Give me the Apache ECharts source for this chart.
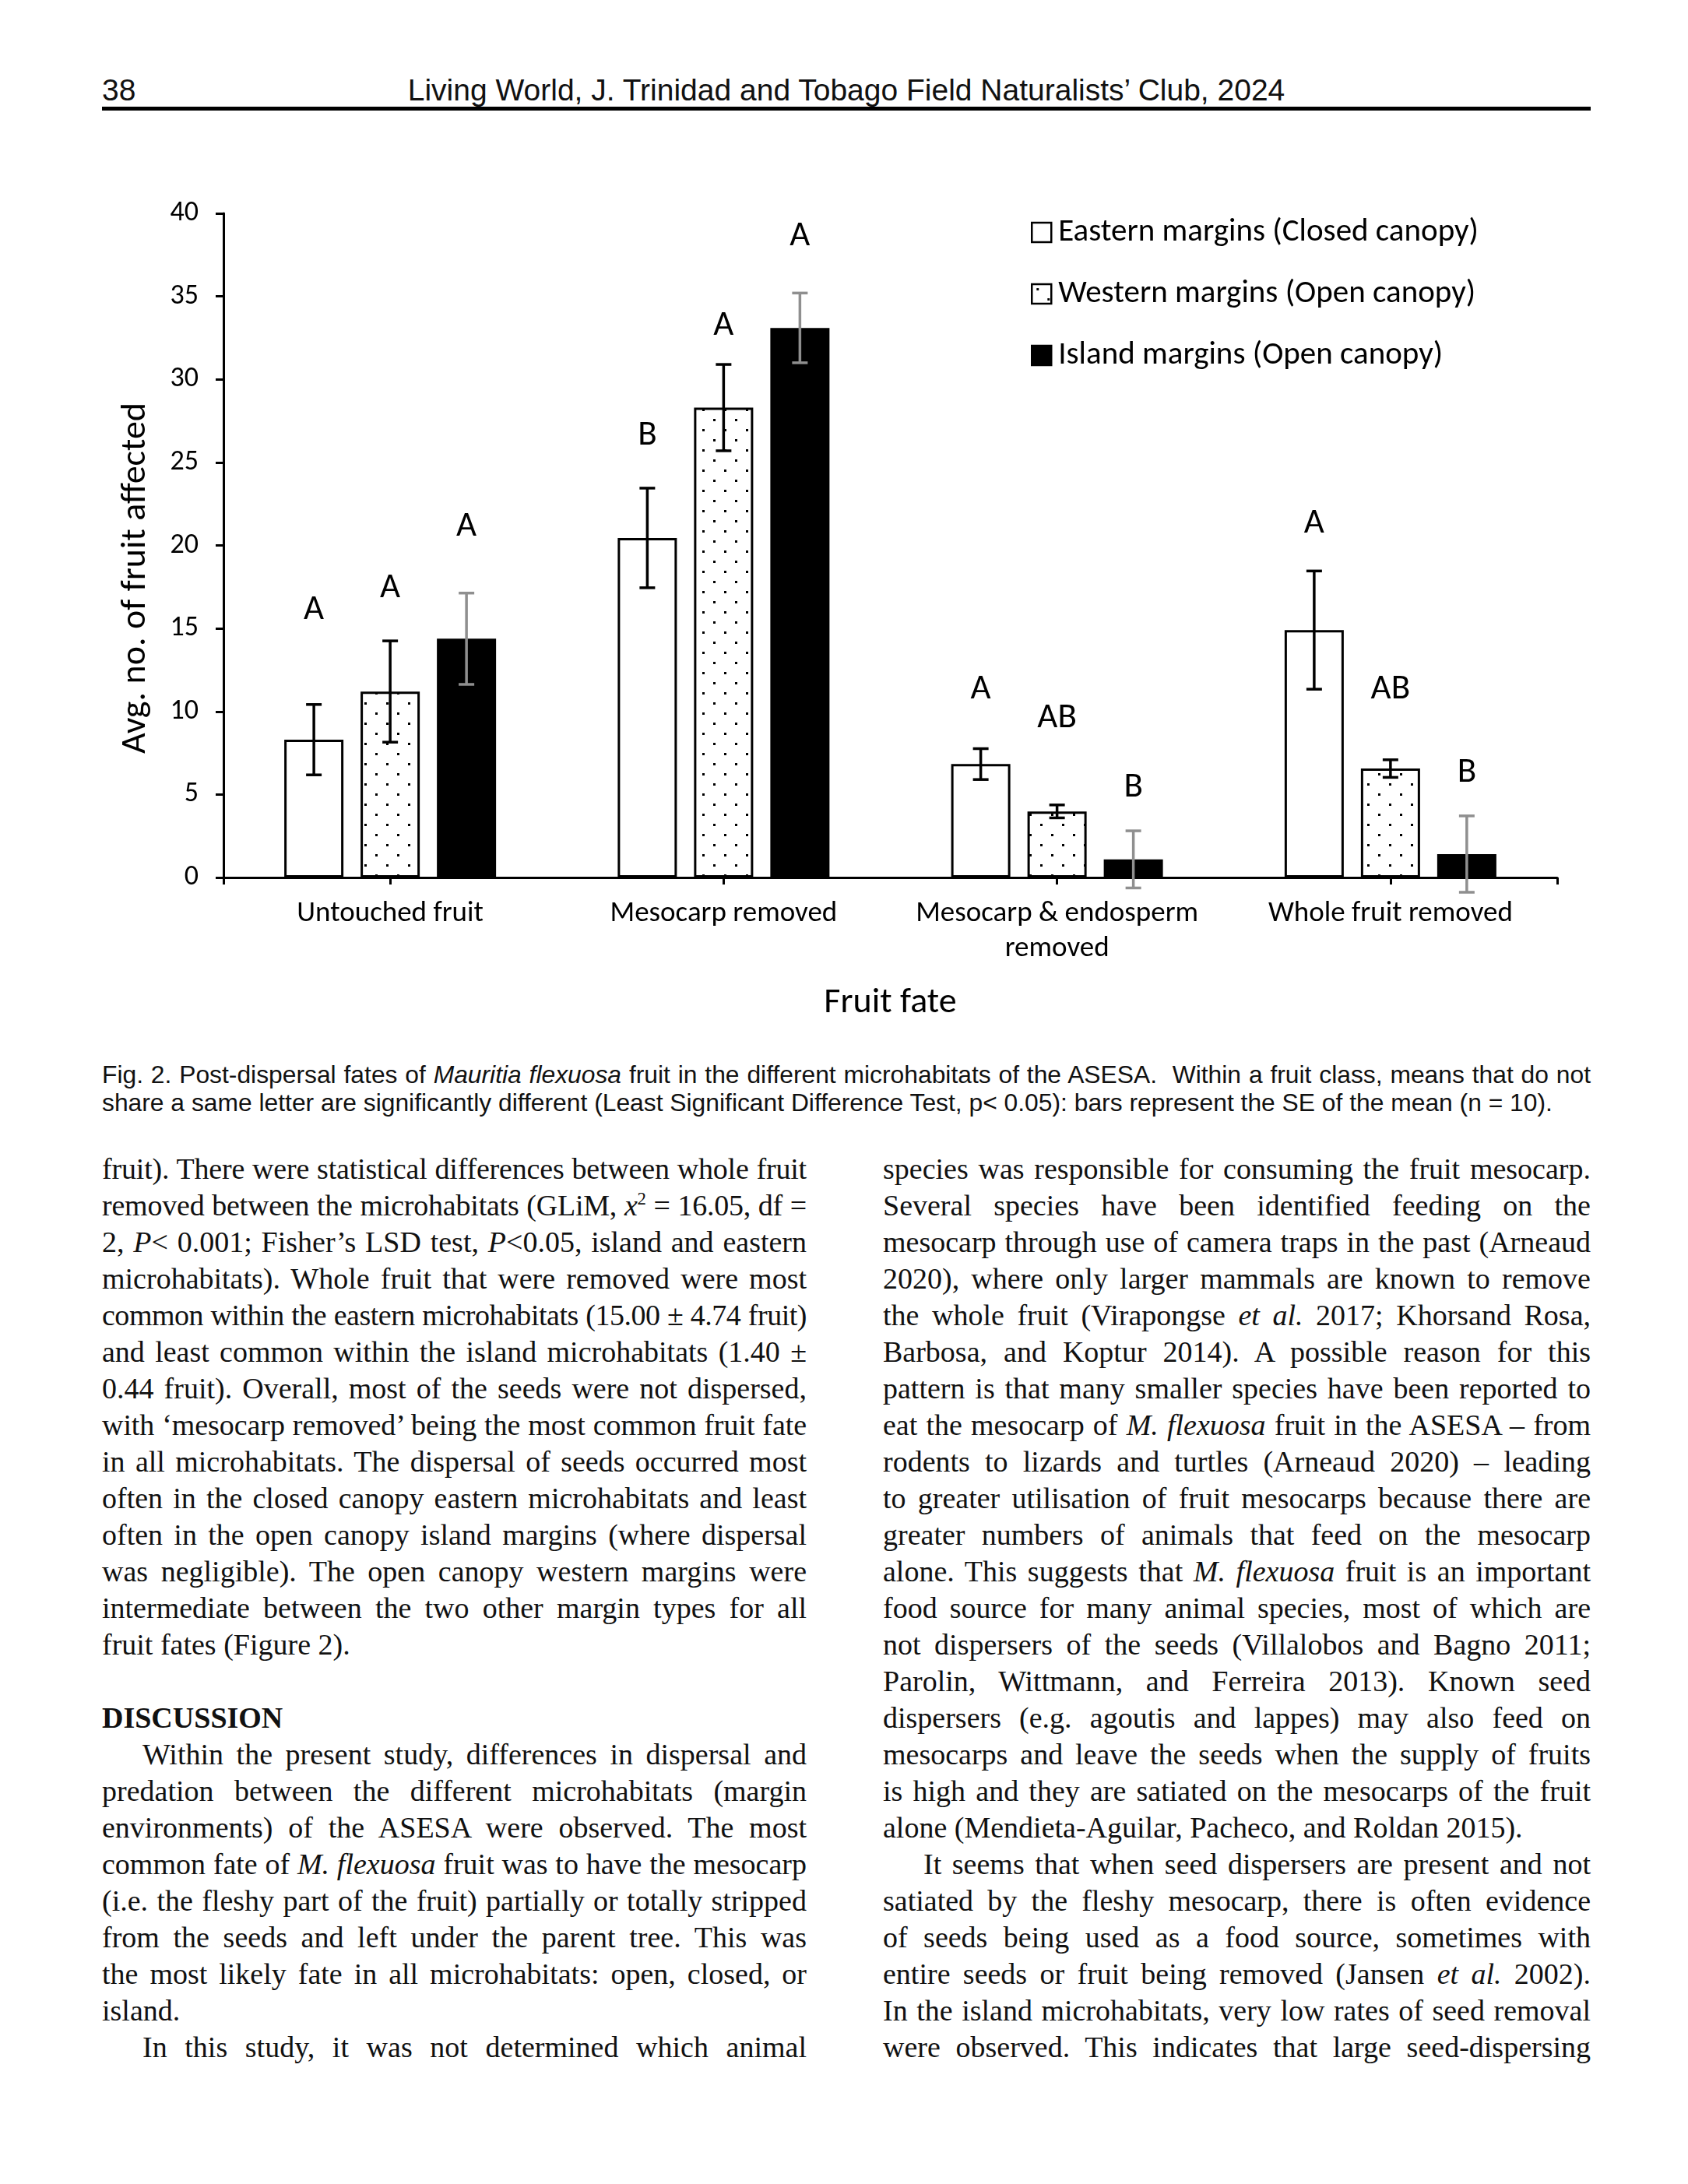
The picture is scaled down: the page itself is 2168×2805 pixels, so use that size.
<!DOCTYPE html>
<html><head><meta charset="utf-8">
<script src="https://cdn.jsdelivr.net/npm/echarts@6/dist/echarts.min.js"></script>
<style>
html,body{margin:0;padding:0;background:#fff;}
#page{position:relative;width:2168px;height:2805px;background:#fff;overflow:hidden;}
#chart{position:absolute;left:0;top:0;width:2168px;height:1340px;}
.hdr{position:absolute;top:94px;font-family:'Liberation Sans',Arial,sans-serif;font-size:39px;line-height:44px;color:#111;white-space:nowrap;}
.rule{position:absolute;left:131px;top:137px;width:1912px;height:5px;background:#000;}
.cap{position:absolute;left:131px;width:1912px;font-family:'Liberation Sans',Arial,sans-serif;font-size:31.8px;line-height:36px;white-space:nowrap;color:#111;}
.cap.j{text-align:justify;text-align-last:justify;}
.col{position:absolute;top:1478px;font-family:'Liberation Serif','Times New Roman',serif;font-size:38px;color:#111;}
.col div{height:47px;line-height:47px;white-space:nowrap;text-align:justify;text-align-last:justify;}
.col div.l{text-align:left;text-align-last:left;}
.col div.ind{padding-left:52px;}
</style></head>
<body><div id="page">
<div class="hdr" style="left:131px;">38</div>
<div class="hdr" style="left:131px;width:1912px;text-align:center;">Living World, J. Trinidad and Tobago Field Naturalists’ Club, 2024</div>
<div class="rule"></div>
<div id="chart"></div>
<div class="cap j" style="top:1362px;">Fig. 2. Post-dispersal fates of <i>Mauritia flexuosa</i> fruit in the different microhabitats of the ASESA.&nbsp; Within a fruit class, means that do not</div>
<div class="cap" style="top:1398px;">share a same letter are significantly different (Least Significant Difference Test, p&lt; 0.05): bars represent the SE of the mean (n = 10).</div>
<div class="col" style="left:131px;width:905px;">
<div>fruit). There were statistical differences between whole fruit</div>
<div>removed between the microhabitats (GLiM, <i>x</i><sup style="font-size:60%;line-height:0">2</sup> = 16.05, df =</div>
<div>2, <i>P</i>&lt; 0.001; Fisher’s LSD test, <i>P</i>&lt;0.05, island and eastern</div>
<div>microhabitats). Whole fruit that were removed were most</div>
<div>common within the eastern microhabitats (15.00 ± 4.74 fruit)</div>
<div>and least common within the island microhabitats (1.40 ±</div>
<div>0.44 fruit). Overall, most of the seeds were not dispersed,</div>
<div>with ‘mesocarp removed’ being the most common fruit fate</div>
<div>in all microhabitats. The dispersal of seeds occurred most</div>
<div>often in the closed canopy eastern microhabitats and least</div>
<div>often in the open canopy island margins (where dispersal</div>
<div>was negligible). The open canopy western margins were</div>
<div>intermediate between the two other margin types for all</div>
<div class="l">fruit fates (Figure 2).</div>
<div class="l"></div>
<div class="l"><b>DISCUSSION</b></div>
<div class="ind">Within the present study, differences in dispersal and</div>
<div>predation between the different microhabitats (margin</div>
<div>environments) of the ASESA were observed. The most</div>
<div>common fate of <i>M. flexuosa</i> fruit was to have the mesocarp</div>
<div>(i.e. the fleshy part of the fruit) partially or totally stripped</div>
<div>from the seeds and left under the parent tree. This was</div>
<div>the most likely fate in all microhabitats: open, closed, or</div>
<div class="l">island.</div>
<div class="ind">In this study, it was not determined which animal</div>
</div>
<div class="col" style="left:1134px;width:909px;">
<div>species was responsible for consuming the fruit mesocarp.</div>
<div>Several species have been identified feeding on the</div>
<div>mesocarp through use of camera traps in the past (Arneaud</div>
<div>2020), where only larger mammals are known to remove</div>
<div>the whole fruit (Virapongse <i>et al.</i> 2017; Khorsand Rosa,</div>
<div>Barbosa, and Koptur 2014). A possible reason for this</div>
<div>pattern is that many smaller species have been reported to</div>
<div>eat the mesocarp of <i>M. flexuosa</i> fruit in the ASESA – from</div>
<div>rodents to lizards and turtles (Arneaud 2020) – leading</div>
<div>to greater utilisation of fruit mesocarps because there are</div>
<div>greater numbers of animals that feed on the mesocarp</div>
<div>alone. This suggests that <i>M. flexuosa</i> fruit is an important</div>
<div>food source for many animal species, most of which are</div>
<div>not dispersers of the seeds (Villalobos and Bagno 2011;</div>
<div>Parolin, Wittmann, and Ferreira 2013). Known seed</div>
<div>dispersers (e.g. agoutis and lappes) may also feed on</div>
<div>mesocarps and leave the seeds when the supply of fruits</div>
<div>is high and they are satiated on the mesocarps of the fruit</div>
<div class="l">alone (Mendieta-Aguilar, Pacheco, and Roldan 2015).</div>
<div class="ind">It seems that when seed dispersers are present and not</div>
<div>satiated by the fleshy mesocarp, there is often evidence</div>
<div>of seeds being used as a food source, sometimes with</div>
<div>entire seeds or fruit being removed (Jansen <i>et al.</i> 2002).</div>
<div>In the island microhabitats, very low rates of seed removal</div>
<div>were observed. This indicates that large seed-dispersing</div>
</div>
</div>
<script>
// ---- data ----
const categories = ['Untouched fruit', 'Mesocarp removed', 'Mesocarp & endosperm\nremoved', 'Whole fruit removed'];
const seriesNames = ['Eastern margins (Closed canopy)', 'Western margins (Open canopy)', 'Island margins (Open canopy)'];
const eastern = [8.3, 20.45, 6.83, 14.9];
const western = [11.2, 28.3, 3.98, 6.56];
const island = [14.38, 33.1, 1.09, 1.41];
const easternSE = [2.12, 3.0, 0.93, 3.56];
const westernSE = [3.05, 2.6, 0.39, 0.53];
const islandSE = [2.75, 2.1, 1.72, 2.3];
const easternLetters = ['A', 'B', 'A', 'A'];
const westernLetters = ['A', 'A', 'AB', 'AB'];
const islandLetters = ['A', 'A', 'B', 'B'];
const easternLetterY = [16.1, 26.6, 11.3, 21.3];
const westernLetterY = [17.4, 33.2, 9.6, 11.3];
const islandLetterY = [21.1, 38.6, 5.4, 6.3];
const yMin = 0, yMax = 40, yInterval = 5;

// ---- fit body lines ----
function fitLines(sel) {
  document.querySelectorAll(sel).forEach(d => {
    const cs = getComputedStyle(d);
    const w = d.clientWidth - (parseFloat(cs.paddingLeft) || 0);
    const s = document.createElement('span');
    s.style.cssText = 'position:absolute;visibility:hidden;white-space:nowrap;';
    s.style.font = cs.font;
    s.innerHTML = d.innerHTML;
    document.body.appendChild(s);
    const nw = s.getBoundingClientRect().width;
    s.remove();
    if (nw > w - 2 && d.textContent.length) {
      d.style.letterSpacing = ((w - 4 - nw) / d.textContent.length) + 'px';
    }
  });
}
fitLines('.col div');
fitLines('.cap');

// ---- chart ----
const FONT = 'Carlito, Lato, sans-serif';
const BAR_W = 76, BAR_GAP = 22;
const pc = document.createElement('canvas');
pc.width = 28; pc.height = 26;
const g = pc.getContext('2d');
g.fillStyle = '#fff'; g.fillRect(0, 0, 28, 26);
g.fillStyle = '#000'; g.fillRect(6, 5, 3, 3); g.fillRect(20, 18, 3, 3);

function errSeries(idx, vals, se, letters, ly, color) {
  return {
    type: 'custom',
    xAxisIndex: 0, yAxisIndex: 0,
    z: 5,
    silent: true,
    data: vals.map((v, i) => [i, v, se[i], ly[i]]),
    encode: { x: 0, y: 1 },
    renderItem: (params, api) => {
      const i = api.value(0), v = api.value(1), s = api.value(2), l = api.value(3);
      const x = api.coord([i, 0])[0] + (idx - 1) * (BAR_W + BAR_GAP);
      const yt = api.coord([i, v + s])[1];
      const yb = api.coord([i, v - s])[1];
      const yl = api.coord([i, l])[1];
      const st = { stroke: color, lineWidth: 3.5 };
      return {
        type: 'group', children: [
          { type: 'line', shape: { x1: x, y1: yt, x2: x, y2: yb }, style: st },
          { type: 'line', shape: { x1: x - 10, y1: yt, x2: x + 10, y2: yt }, style: st },
          { type: 'line', shape: { x1: x - 10, y1: yb, x2: x + 10, y2: yb }, style: st },
          { type: 'text', x: x, y: yl, style: { text: letters[params.dataIndex], fill: '#000', fontSize: 45, fontFamily: FONT, align: 'center', verticalAlign: 'middle' } }
        ]
      };
    }
  };
}

const chart = echarts.init(document.getElementById('chart'), null, { renderer: 'canvas' });
chart.setOption({
  animation: false,
  backgroundColor: 'transparent',
  grid: { left: 287, right: 168, top: 274, bottom: 213, containLabel: false },
  legend: {
    orient: 'vertical', left: 1319, top: 273, icon: 'rect',
    itemWidth: 25, itemHeight: 25, itemGap: 38, selectedMode: false,
    textStyle: { fontSize: 41, fontFamily: FONT, color: '#000', lineHeight: 40, padding: [0, 0, 0, 4] },
    itemStyle: { borderColor: '#000', borderWidth: 2.5 },
    data: seriesNames
  },
  xAxis: [{
    type: 'category', data: categories, position: 'bottom',
    axisLine: { show: true, lineStyle: { color: '#000', width: 3 } },
    axisTick: { show: true, alignWithLabel: true, length: 9, lineStyle: { color: '#000', width: 3 } },
    axisLabel: { color: '#000', fontSize: 37, fontFamily: FONT, margin: 24, lineHeight: 45, interval: 0 },
    name: 'Fruit fate', nameLocation: 'middle', nameGap: 138,
    nameTextStyle: { color: '#000', fontSize: 46, fontFamily: FONT }
  }, {
    type: 'category', data: [''], position: 'bottom', gridIndex: 0,
    axisLine: { show: false },
    axisTick: { show: true, alignWithLabel: false, length: 9, lineStyle: { color: '#000', width: 3 } },
    axisLabel: { show: false }
  }],
  yAxis: {
    type: 'value', min: yMin, max: yMax, interval: yInterval,
    splitLine: { show: false },
    axisLine: { show: true, lineStyle: { color: '#000', width: 3 } },
    axisTick: { show: true, length: 10, lineStyle: { color: '#000', width: 3 } },
    axisLabel: { color: '#000', fontSize: 36, fontFamily: FONT, margin: 32 },
    name: 'Avg. no. of fruit affected', nameLocation: 'middle', nameGap: 90, nameRotate: 90,
    nameTextStyle: { color: '#000', fontSize: 46, fontFamily: FONT, padding: [0, 84, 0, 0] }
  },
  series: [
    { name: seriesNames[0], type: 'bar', data: eastern, barWidth: BAR_W, barGap: (BAR_GAP / BAR_W * 100) + '%',
      itemStyle: { color: '#fff', borderColor: '#000', borderWidth: 3 } },
    { name: seriesNames[1], type: 'bar', data: western, barWidth: BAR_W, barGap: (BAR_GAP / BAR_W * 100) + '%',
      itemStyle: { color: { image: pc, repeat: 'repeat' }, borderColor: '#000', borderWidth: 3 } },
    { name: seriesNames[2], type: 'bar', data: island, barWidth: BAR_W, barGap: (BAR_GAP / BAR_W * 100) + '%',
      itemStyle: { color: '#000', borderColor: '#000', borderWidth: 3 } },
    errSeries(0, eastern, easternSE, easternLetters, easternLetterY, '#000'),
    errSeries(1, western, westernSE, westernLetters, westernLetterY, '#000'),
    errSeries(2, island, islandSE, islandLetters, islandLetterY, '#8f8f8f')
  ]
});
</script>
</body></html>
